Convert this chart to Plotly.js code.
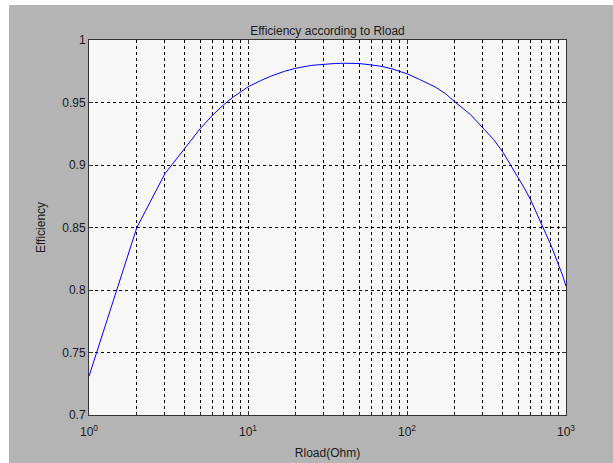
<!DOCTYPE html>
<html>
<head>
<meta charset="utf-8">
<script src="https://cdn.plot.ly/plotly-3.0.1.min.js"></script>
<style>
html,body{margin:0;padding:0;background:#ffffff;width:613px;height:463px;overflow:hidden;}
#chart{position:absolute;left:9px;top:5px;width:604px;height:458px;}
</style>
</head>
<body>
<div id="chart"></div>
<script>
// Rload values (Ohm) and efficiency
const rload = [1, 2, 3, 4, 5, 6, 7, 8, 9,
  10, 12, 14, 17, 20, 25, 30, 35, 40, 50, 60, 70, 80,
  100, 120, 150, 175, 200, 250, 300, 350, 400, 450, 500,
  550, 600, 650, 700, 750, 800, 850, 900, 950, 1000];
const efficiency = [0.731, 0.850, 0.893, 0.913, 0.929, 0.940, 0.948, 0.954, 0.9585,
  0.9625, 0.9675, 0.9712, 0.9750, 0.9774, 0.9797, 0.9808, 0.9812, 0.9814, 0.9812, 0.9800, 0.9788, 0.9770,
  0.9730, 0.9684, 0.9625, 0.9570, 0.9505, 0.9405, 0.9300, 0.9205, 0.9105, 0.9000, 0.8900,
  0.8810, 0.8720, 0.8625, 0.8535, 0.8450, 0.8365, 0.8280, 0.8200, 0.8120, 0.8030];

// decade ticks and minor grid positions for the log axis
const xDecadeVals = [1, 10, 100, 1000];
const xDecadeText = ['10<sup>0</sup>', '10<sup>1</sup>', '10<sup>2</sup>', '10<sup>3</sup>'];
const xMinorVals = [2,3,4,5,6,7,8,9,20,30,40,50,60,70,80,90,200,300,400,500,600,700,800,900];
const yTickVals = [0.7, 0.75, 0.8, 0.85, 0.9, 0.95, 1];
const yTickText = ['0.7', '0.75', '0.8', '0.85', '0.9', '0.95', '1'];

const trace = {
  x: rload,
  y: efficiency,
  type: 'scatter',
  mode: 'lines',
  line: {color: '#0000ff', width: 1},
  hoverinfo: 'x+y'
};

const fontFam = 'Liberation Sans, Arial, Helvetica, sans-serif';
const txtCol = '#1a1a1a';
const gridCommon = {
  showgrid: true,
  gridcolor: '#000000',
  gridwidth: 1,
  griddash: '3px,3px',
  zeroline: false
};

const layout = {
  width: 604,
  height: 458,
  paper_bgcolor: '#b4b4b4',
  plot_bgcolor: '#f8f8f8',
  margin: {l: 80, r: 47, t: 35, b: 48, pad: 0},
  showlegend: false,
  title: {
    text: 'Efficiency according to Rload',
    font: {family: fontFam, size: 12, color: txtCol},
    x: 0.5, xref: 'paper', xanchor: 'center',
    y: 1, yref: 'paper', yanchor: 'bottom', pad: {b: 5}
  },
  xaxis: Object.assign({}, gridCommon, {
    type: 'log',
    range: [0, 3],
    tickmode: 'array',
    tickvals: xDecadeVals,
    ticktext: xDecadeText,
    ticks: 'inside',
    ticklen: 4,
    tickcolor: '#333333',
    ticklabelstandoff: 6,
    showline: true,
    linecolor: '#333333',
    linewidth: 1,
    mirror: 'ticks',
    tickfont: {family: fontFam, size: 12, color: txtCol},
    title: {text: 'Rload(Ohm)', font: {family: fontFam, size: 12, color: txtCol}, standoff: 10}
  }),
  xaxis2: Object.assign({}, gridCommon, {
    type: 'log',
    range: [0, 3],
    overlaying: 'x',
    side: 'bottom',
    tickmode: 'array',
    tickvals: xMinorVals,
    showticklabels: false,
    ticks: 'inside',
    ticklen: 2,
    tickcolor: '#333333',
    showline: false
  }),
  yaxis: Object.assign({}, gridCommon, {
    range: [0.7, 1],
    tickmode: 'array',
    tickvals: yTickVals,
    ticktext: yTickText,
    ticks: 'inside',
    ticklen: 4,
    tickcolor: '#333333',
    showline: true,
    linecolor: '#333333',
    linewidth: 1,
    mirror: 'ticks',
    tickfont: {family: fontFam, size: 12, color: txtCol},
    title: {text: 'Efficiency', font: {family: fontFam, size: 12, color: txtCol}, standoff: 14}
  })
};

const gridTrace = {x: [], y: [], xaxis: 'x2', yaxis: 'y', type: 'scatter', mode: 'lines', hoverinfo: 'skip', showlegend: false};

Plotly.newPlot('chart', [gridTrace, trace], layout, {displayModeBar: false, staticPlot: true});
</script>
</body>
</html>
